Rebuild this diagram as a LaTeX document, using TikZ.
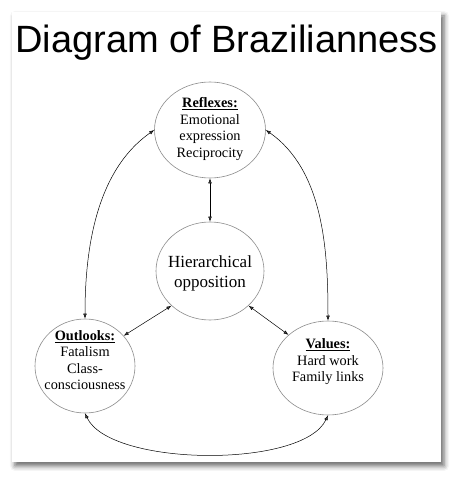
\documentclass[tikz,border=0pt]{standalone}
\usepackage{fontspec}
\setmainfont{Liberation Serif}
\setsansfont{Liberation Sans}
\usepackage{tikz}
\usetikzlibrary{arrows.meta, shapes.geometric, shadows.blur}

\begin{document}
\begin{tikzpicture}[x=1pt, y=1pt,
    bubble/.style={ellipse, draw=black!45, line width=0.6pt, inner sep=0pt},
    bubbletext/.style={align=center, font=\fontsize{14.3}{16.5}\selectfont},
    link/.style={{Latex[length=5pt,width=3.6pt]}-{Latex[length=5pt,width=3.6pt]}, line width=0.5pt}]
        \useasboundingbox (0,0) rectangle (459,480);
        \fill[white, blur shadow={shadow xshift=3pt, shadow yshift=-4pt, shadow blur radius=5pt, shadow opacity=60}]
          (12,18) rectangle (441,468);

        \node[font=\sffamily\fontsize{38}{40}\selectfont, anchor=base] (title) at (226.5,427) {Diagram of Brazilianness};

        \node[bubble, minimum width=111, minimum height=96] (refl) at (210,350) {};
        \node[bubble, minimum width=108, minimum height=98] (hier) at (210,209) {};
        \node[bubble, minimum width=100, minimum height=94] (outl) at (85,114) {};
        \node[bubble, minimum width=110, minimum height=94] (valu) at (328,112) {};

        \node[bubbletext] (refltxt) at (210,351)
          {\underline{\textbf{Reflexes:}}\\Emotional\\expression\\Reciprocity};
        \node[align=center, font=\fontsize{17}{20}\selectfont] (hiertxt) at (210,207)
          {Hierarchical\\opposition};
        \node[bubbletext] (outltxt) at (85,120)
          {\underline{\textbf{Outlooks:}}\\Fatalism\\Class-\\consciousness};
        \node[bubbletext] (valutxt) at (328,118)
          {\underline{\textbf{Values:}}\\Hard work\\Family links};

        \draw[link] (refl.south) -- (hier.north);
        \draw[link] (hier.222) -- (outl.38);
        \draw[link] (hier.318) -- (valu.140);
        \draw[link] (refl.west) to[out=215, in=90, looseness=0.9] (outl.north);
        \draw[link] (refl.east) to[out=-35, in=90, looseness=0.9] (valu.north);
        \draw[link] (outl.south) to[out=-65, in=-115, looseness=0.62] (valu.south);
      \end{tikzpicture}
\end{document}
